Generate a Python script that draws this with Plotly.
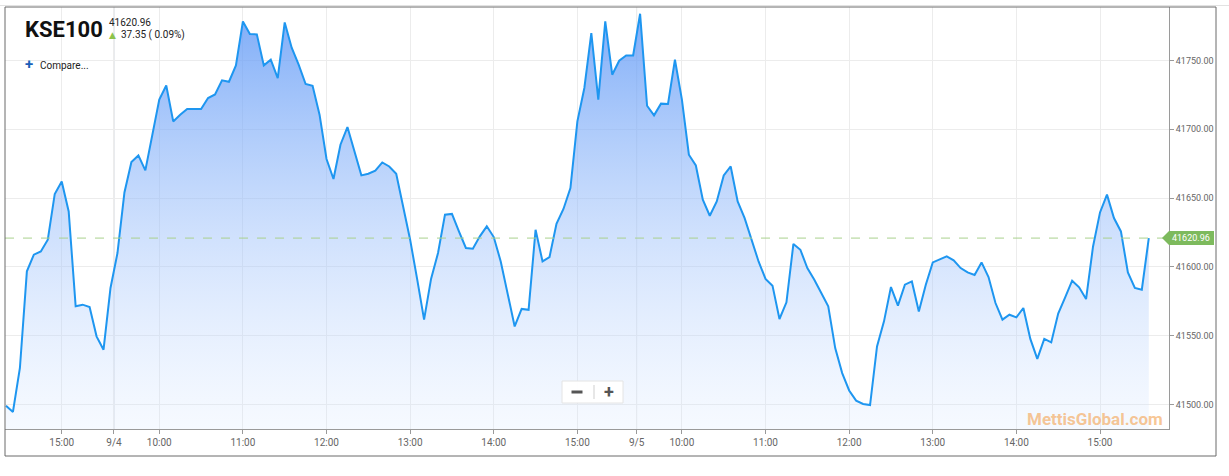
import plotly.graph_objects as go

# ---------------- data ----------------
days = ["9/3", "9/4", "9/5"]
session_start = ["14:20", "09:30", "09:30"]
bars_per_day = [16, 75, 74]

kse100 = [
    # 9/3 (tail of session)
    41499.2, 41494.7, 41526.6, 41596.8, 41608.9, 41611.3, 41619.8, 41653.0,
    41662.1, 41640.3, 41571.4, 41572.6, 41570.9, 41549.6, 41539.9, 41584.7,
    # 9/4
    41610.1, 41654.1, 41676.2, 41681.0, 41670.1, 41694.8, 41721.5, 41731.8,
    41705.7, 41710.6, 41714.7, 41714.7, 41714.7, 41722.7, 41725.3, 41735.5,
    41734.5, 41746.4, 41778.3, 41769.2, 41768.9, 41746.4, 41750.5, 41737.2,
    41777.6, 41759.2, 41746.9, 41732.9, 41731.6, 41710.6, 41678.4, 41663.9,
    41688.8, 41701.6, 41683.9, 41666.5, 41667.7, 41669.9, 41675.9, 41673.0,
    41667.7, 41644.0, 41619.8, 41591.3, 41561.7, 41591.3, 41610.1, 41638.0,
    41638.5, 41625.8, 41613.8, 41613.3, 41622.2, 41629.5, 41621.7, 41604.0,
    41581.1, 41556.8, 41569.5, 41568.9, 41627.0, 41604.0, 41607.2, 41631.4,
    41642.1, 41657.3, 41705.7, 41730.0, 41769.9, 41721.5, 41778.3, 41739.6,
    41749.8, 41753.6, 41753.6,
    # 9/5
    41783.9, 41717.1, 41710.1, 41718.6, 41718.3, 41750.5, 41721.5, 41681.5,
    41673.7, 41648.8, 41637.2, 41647.6, 41666.5, 41673.0, 41647.6, 41635.5,
    41619.8, 41604.0, 41591.3, 41586.4, 41562.2, 41574.3, 41616.7, 41612.5,
    41599.2, 41590.7, 41581.1, 41571.4, 41541.1, 41522.9, 41510.3, 41502.9,
    41500.5, 41499.7, 41542.3, 41560.5, 41585.4, 41571.9, 41587.1, 41589.5,
    41567.7, 41587.1, 41603.3, 41605.3, 41607.7, 41604.8, 41599.2, 41596.0,
    41594.2, 41603.3, 41592.7, 41573.8, 41561.7, 41565.3, 41563.4, 41570.2,
    41547.7, 41533.2, 41547.7, 41545.2, 41566.1, 41577.9, 41590.0, 41585.2,
    41576.7, 41614.9, 41639.6, 41652.5, 41635.5, 41625.8, 41596.0, 41584.7,
    41583.5, 41620.96,
]

symbol = "KSE100"
last_price = 41620.96
change = 37.35
change_pct = 0.09
y_ticks = [41500, 41550, 41600, 41650, 41700, 41750]
watermark = "MettisGlobal.com"

# ---------------- build 5-minute bar timeline ----------------
times = []
for d, s, n in zip(days, session_start, bars_per_day):
    h, m = map(int, s.split(":"))
    t0 = h * 60 + m
    for k in range(n):
        t = t0 + 5 * k
        times.append((d, t // 60, t % 60))

x = list(range(len(times)))
labels = [f"{d} {h:02d}:{m:02d}" for d, h, m in times]

tickvals, ticktext, day_lines = [], [], []
for i, (d, h, m) in enumerate(times):
    new_day = i > 0 and times[i - 1][0] != d
    if new_day:
        tickvals.append(i - 0.5)
        ticktext.append(d)
        day_lines.append(i - 0.5)
    elif m == 0:
        tickvals.append(i)
        ticktext.append(f"{h}:00")

# ---------------- figure ----------------
W, H = 1229, 476
L, R, T, B = 5, 60, 7, 47
pw, ph = W - L - R, H - T - B


def px(xp):
    return (xp - L) / pw


def py(yp):
    return (H - B - yp) / ph


y_lo, y_hi = 41482.3, 41788.8

fig = go.Figure()
fig.add_trace(go.Scatter(
    x=x, y=kse100, mode="lines",
    line=dict(color="#1e96f0", width=2),
    fill="tozeroy",
    fillgradient=dict(
        type="vertical",
        start=y_lo, stop=max(kse100),
        colorscale=[[0, "rgba(214,230,255,0.22)"], [1, "rgba(95,152,246,0.80)"]],
    ),
    customdata=labels,
    hovertemplate="%{customdata}<br>%{y:.2f}<extra></extra>",
    showlegend=False,
))

shapes = []
# darker day-separator gridlines
for xv in day_lines:
    shapes.append(dict(type="line", xref="x", yref="paper", x0=xv, x1=xv, y0=0, y1=1,
                       line=dict(color="#d2d6dc", width=1), layer="below"))
# last price dashed line
shapes.append(dict(type="line", xref="paper", yref="y", x0=0, x1=1, y0=last_price, y1=last_price,
                   line=dict(color="#a9d18e", width=1, dash="dash")))
# price tag
shapes.append(dict(type="path", xref="paper", yref="y", xsizemode="pixel", ysizemode="pixel",
                   xanchor=1, yanchor=last_price,
                   path="M -7,0 L 0,7 L 45,7 L 45,-7 L 0,-7 Z",
                   fillcolor="#7dba5d", line=dict(width=0)))
# outer frame
shapes.append(dict(type="rect", xref="paper", yref="paper", x0=0, x1=px(1216), y0=py(456), y1=1,
                   line=dict(color="#6b6b6b", width=1)))
# faint page line at top
shapes.append(dict(type="line", xref="paper", yref="paper", x0=px(0), x1=px(1229), y0=py(5.5), y1=py(5.5),
                   line=dict(color="#e2e2e2", width=1)))
# zoom buttons box
shapes.append(dict(type="rect", xref="paper", yref="paper", x0=px(562), x1=px(623), y0=py(403), y1=py(381),
                   line=dict(color="#e4e4e4", width=1), fillcolor="rgba(255,255,255,0.95)"))
shapes.append(dict(type="line", xref="paper", yref="paper", x0=px(594), x1=px(594), y0=py(399), y1=py(385),
                   line=dict(color="#cfcfcf", width=1)))
# minus glyph
shapes.append(dict(type="line", xref="paper", yref="paper", x0=px(571.5), x1=px(582.5), y0=py(392), y1=py(392),
                   line=dict(color="#555555", width=3)))

annotations = [
    dict(text=f"<b>{symbol}</b>", xref="paper", yref="paper", x=px(23), y=py(30),
         xanchor="left", yanchor="middle", showarrow=False,
         font=dict(family="Roboto", size=22, color="#111111")),
    dict(text=f"{last_price:.2f}", xref="paper", yref="paper", x=px(107), y=py(23),
         xanchor="left", yanchor="middle", showarrow=False,
         font=dict(family="Roboto", size=10, color="#222222")),
    dict(text="▲", xref="paper", yref="paper", x=px(107), y=py(35.5),
         xanchor="left", yanchor="middle", showarrow=False,
         font=dict(family="DejaVu Sans", size=9, color="#8cc34a")),
    dict(text=f"{change:.2f} ( {change_pct:.2f}%)", xref="paper", yref="paper", x=px(119), y=py(35.5),
         xanchor="left", yanchor="middle", showarrow=False,
         font=dict(family="Roboto", size=10, color="#222222")),
    dict(text="<b>+</b>", xref="paper", yref="paper", x=px(23), y=py(64),
         xanchor="left", yanchor="middle", showarrow=False,
         font=dict(family="Roboto", size=15, color="#1b5fb8")),
    dict(text="Compare...", xref="paper", yref="paper", x=px(38), y=py(65),
         xanchor="left", yanchor="middle", showarrow=False,
         font=dict(family="Roboto", size=10, color="#222222")),
    dict(text="<b>+</b>", xref="paper", yref="paper", x=px(609), y=py(391),
         xanchor="center", yanchor="middle", showarrow=False,
         font=dict(family="Roboto", size=18, color="#555555")),
    dict(text=f"<b>{watermark}</b>", xref="paper", yref="paper", x=px(1165), y=py(419),
         xanchor="right", yanchor="middle", showarrow=False,
         font=dict(family="Roboto", size=17, color="rgba(244,170,95,0.68)")),
    dict(text=f"{last_price:.2f}", xref="paper", yref="y", x=1, y=last_price,
         xanchor="left", yanchor="middle", xshift=1, showarrow=False,
         font=dict(family="Roboto", size=9, color="#ffffff")),
]

fig.update_layout(
    width=W, height=H,
    margin=dict(l=L, r=R, t=T, b=B),
    paper_bgcolor="white", plot_bgcolor="white",
    shapes=shapes, annotations=annotations,
    hovermode="x",
    xaxis=dict(
        range=[-0.14, 166.9], tickmode="array", tickvals=tickvals, ticktext=ticktext,
        showgrid=True, gridcolor="#ececec", gridwidth=1, zeroline=False,
        showline=True, linecolor="#9a9a9a", linewidth=1,
        ticks="outside", ticklen=4, tickcolor="#9a9a9a",
        tickfont=dict(family="Roboto", size=10, color="#666666"),
        fixedrange=True,
    ),
    yaxis=dict(
        side="right", range=[y_lo, y_hi], tickmode="array", tickvals=y_ticks,
        tickformat=".2f",
        showgrid=True, gridcolor="#ececec", gridwidth=1, zeroline=False,
        showline=True, linecolor="#9a9a9a", linewidth=1,
        ticks="outside", ticklen=4, tickcolor="#9a9a9a",
        tickfont=dict(family="Roboto", size=9, color="#666666"),
        fixedrange=True,
    ),
)

fig.write_html(
    "out.html",
    config={"displayModeBar": False},
    post_script="document.body.style.margin='0px'; document.body.style.overflow='hidden';",
)
